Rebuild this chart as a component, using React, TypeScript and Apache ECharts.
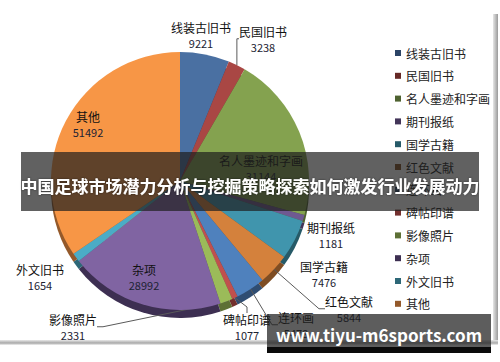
import React, { useEffect, useRef } from "react";
import * as echarts from "echarts";

const categories = [
  "线装古旧书", "民国旧书", "名人墨迹和字画", "期刊报纸", "国学古籍", "红色文献",
  "连环画", "碑帖印谱", "影像照片", "杂项", "外文旧书", "其他",
];
const values = [9221, 3238, 31144, 1181, 7476, 5844, 5478, 1077, 2331, 28992, 1654, 51492];

const titleText = "中国足球市场潜力分析与挖掘策略探索如何激发行业发展动力";
const watermarkText = "www.tiyu-m6sports.com";

const sliceColors = [
  "#4A70A2", "#A94744", "#84A24F", "#6F5991", "#4095AD", "#D4813C",
  "#4F81BD", "#C0504D", "#9BBB59", "#8064A2", "#4BACC6", "#F79646",
];
const sideColors = [
  "#2B4466", "#662926", "#4E6230", "#433559", "#265A68", "#7F4D23",
  "#2F4D72", "#73302E", "#5D7035", "#3D2F52", "#2D6777", "#94592A",
];
// label anchor positions (layout, not data)
const labelPos: [number, number][] = [
  [201, 35], [263, 39], [261, 168], [331, 235], [324, 274], [349, 309],
  [296, 325], [247, 327], [73, 327], [144, 277], [40, 277], [88, 124],
];
const leaderShown = [false, true, false, false, false, true, true, true, true, false, false, false];

const FONT = "'Noto Sans CJK SC', 'Noto Sans', sans-serif";

export default function App() {
  const ref = useRef<HTMLDivElement>(null);
  useEffect(() => {
    if (!ref.current) return;
    const chart = echarts.init(ref.current, undefined, { renderer: "svg" });
    const center = [180, 181];
    const radius = 129;
    const mainData = categories.map((name, i) => ({
      name,
      value: values[i],
      itemStyle: { color: sliceColors[i] },
      labelLine: { show: leaderShown[i] },
    }));
    const sideData = categories.map((name, i) => ({
      name,
      value: values[i],
      itemStyle: { color: sideColors[i] },
    }));
    chart.setOption({
      animation: false,
      backgroundColor: "#ffffff",
      legend: {
        orient: "vertical",
        left: 390,
        top: 41,
        icon: "rect",
        itemWidth: 6,
        itemHeight: 6,
        itemGap: 8.8,
        data: categories,
        textStyle: { fontFamily: FONT, fontSize: 12, color: "#222", lineHeight: 14 },
        selectedMode: false,
      },
      series: [
        {
          type: "pie",
          name: "side",
          silent: true,
          center: [center[0], center[1] + 8],
          radius: [0, radius],
          startAngle: 90,
          clockwise: true,
          label: { show: false },
          labelLine: { show: false },
          data: sideData,
          z: 1,
        },
        {
          type: "pie",
          name: "main",
          center,
          radius: [0, radius],
          startAngle: 90,
          clockwise: true,
          avoidLabelOverlap: false,
          data: mainData,
          z: 2,
          label: {
            show: true,
            position: "outside",
            formatter: "{n|{b}}\n{v|{c}}",
            rich: {
              n: { fontFamily: FONT, fontSize: 12, color: "#111", lineHeight: 16 },
              v: { fontFamily: FONT, fontSize: 11, color: "#1c2333", lineHeight: 16 },
            },
          },
          labelLine: {
            show: true,
            length: 8,
            length2: 6,
            lineStyle: { color: "#5a5a5a", width: 1 },
          },
          labelLayout: (params: any) => {
            const p = labelPos[params.dataIndex];
            return { x: p[0], y: p[1], align: "center", verticalAlign: "middle", hideOverlap: false };
          },
        },
      ],
      graphic: [
        {
          type: "rect",
          shape: { x: 493, y: 14, width: 5, height: 328 },
          style: {
            fill: new echarts.graphic.LinearGradient(0, 0, 1, 0, [
              { offset: 0, color: "#e6e6e6" },
              { offset: 1, color: "#9a9a9a" },
            ]),
          },
          z: 10,
        },
        {
          type: "rect",
          shape: { x: 0, y: 340, width: 498, height: 5 },
          style: {
            fill: new echarts.graphic.LinearGradient(0, 0, 0, 1, [
              { offset: 0, color: "#e8e8e8" },
              { offset: 0.6, color: "#a8a8a8" },
              { offset: 1, color: "#f2f2f2" },
            ]),
          },
          z: 10,
        },
        {
          type: "rect",
          shape: { x: 21, y: 152, width: 458, height: 59 },
          style: { fill: "rgba(30,30,30,0.7)" },
          z: 20,
        },
        {
          type: "text",
          x: 250,
          y: 185,
          style: {
            text: titleText,
            fill: "#ffffff",
            fontFamily: FONT,
            fontWeight: "bold",
            fontSize: 17,
            align: "center",
            verticalAlign: "middle",
            textShadowColor: "rgba(0,0,0,0.5)",
            textShadowBlur: 2,
          },
          z: 21,
        },
        {
          type: "rect",
          shape: { x: 267, y: 314, width: 224, height: 33 },
          style: { fill: "rgba(30,30,30,0.72)" },
          z: 20,
        },
        {
          type: "rect",
          shape: { x: 267, y: 347, width: 224, height: 6 },
          style: { fill: "#0a0a0a" },
          z: 20,
        },
        {
          type: "text",
          x: 379,
          y: 334,
          style: {
            text: watermarkText,
            fill: "#ffffff",
            fontFamily: FONT,
            fontWeight: "bold",
            fontSize: 17,
            align: "center",
            verticalAlign: "middle",
          },
          z: 21,
        },
      ],
    });
    return () => chart.dispose();
  }, []);
  return (
    <div
      ref={ref}
      style={{ position: "fixed", left: 0, top: 0, width: 500, height: 362 }}
    />
  );
}
